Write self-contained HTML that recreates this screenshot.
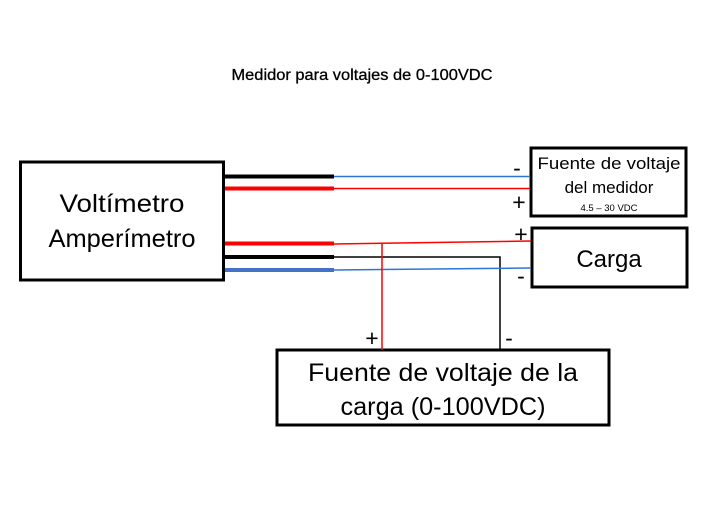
<!DOCTYPE html>
<html><head><meta charset="utf-8"><style>
html,body{margin:0;padding:0;background:#fff;}
svg{display:block;}
text{font-family:"Liberation Sans",sans-serif;fill:#000;}
</style></head><body>
<svg width="724" height="524" viewBox="0 0 724 524" xmlns="http://www.w3.org/2000/svg">
<text x="362" y="80" font-size="16" text-anchor="middle" textLength="261" lengthAdjust="spacingAndGlyphs" stroke="#000" stroke-width="0.3">Medidor para voltajes de 0-100VDC</text>
<!-- boxes -->
<rect x="20.5" y="162" width="203" height="118" fill="#fff" stroke="#000" stroke-width="3"/>
<text x="122" y="212" font-size="25" text-anchor="middle" textLength="125" lengthAdjust="spacingAndGlyphs">Voltímetro</text>
<text x="122" y="247" font-size="25" text-anchor="middle" textLength="147" lengthAdjust="spacingAndGlyphs">Amperímetro</text>
<rect x="531" y="148" width="155" height="68" fill="#fff" stroke="#000" stroke-width="3"/>
<text x="609" y="169" font-size="17" text-anchor="middle" textLength="143" lengthAdjust="spacingAndGlyphs">Fuente de voltaje</text>
<text x="609" y="193" font-size="17" text-anchor="middle">del medidor</text>
<text x="609" y="211" font-size="9.5" text-anchor="middle">4.5 – 30 VDC</text>
<rect x="532" y="228" width="155" height="59" fill="#fff" stroke="#000" stroke-width="3"/>
<text x="609" y="267" font-size="24" text-anchor="middle">Carga</text>
<rect x="277" y="350" width="332" height="75" fill="#fff" stroke="#000" stroke-width="3"/>
<text x="443" y="381" font-size="25" text-anchor="middle" textLength="270" lengthAdjust="spacingAndGlyphs">Fuente de voltaje de la</text>
<text x="443" y="415" font-size="25" text-anchor="middle" textLength="205" lengthAdjust="spacingAndGlyphs">carga (0-100VDC)</text>
<!-- thick wires -->
<line x1="225" y1="176.5" x2="334" y2="176.5" stroke="#000" stroke-width="4"/>
<line x1="225" y1="188.5" x2="334" y2="188.5" stroke="#f00" stroke-width="4"/>
<line x1="225" y1="243.5" x2="334" y2="243.5" stroke="#f00" stroke-width="4"/>
<line x1="225" y1="257" x2="334" y2="257" stroke="#000" stroke-width="4"/>
<line x1="225" y1="270" x2="334" y2="270" stroke="#4472c4" stroke-width="4"/>
<!-- thin wires -->
<line x1="334" y1="176.5" x2="530" y2="176.5" stroke="#2e75d6" stroke-width="1.5"/>
<line x1="334" y1="188.5" x2="530" y2="188.5" stroke="#f00" stroke-width="1.5"/>
<line x1="334" y1="244" x2="531" y2="241" stroke="#f00" stroke-width="1.5"/>
<polyline points="334,257 500,257 500,350" fill="none" stroke="#000" stroke-width="1.5"/>
<line x1="334" y1="270" x2="531" y2="268" stroke="#2e75d6" stroke-width="1.5"/>
<line x1="382" y1="244" x2="382" y2="350" stroke="#f00" stroke-width="1.5"/>
<!-- signs -->
<text x="517" y="176" font-size="23" text-anchor="middle">-</text>
<text x="519" y="210" font-size="23" text-anchor="middle">+</text>
<text x="521" y="242" font-size="23" text-anchor="middle">+</text>
<text x="521" y="284" font-size="23" text-anchor="middle">-</text>
<text x="372" y="346" font-size="23" text-anchor="middle">+</text>
<text x="509" y="346" font-size="23" text-anchor="middle">-</text>
</svg>
</body></html>
